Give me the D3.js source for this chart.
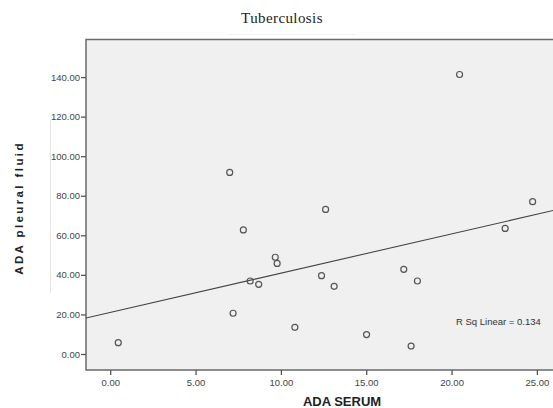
<!DOCTYPE html>
<html>
<head>
<meta charset="utf-8">
<script src="https://cdn.jsdelivr.net/npm/d3@7"></script>
<style>
  body { margin: 0; background: #fff; }
  svg { display: block; }
</style>
</head>
<body>
<div id="chart"></div>
<script>
// ADA values
const adaSerum = [0.47, 7.0, 7.2, 7.8, 8.2, 8.7, 9.67, 9.78, 10.82, 12.38, 12.62, 13.12, 15.02, 17.2, 17.63, 18.0, 20.47, 23.14, 24.75];
const adaPleural = [5.7, 91.8, 20.6, 62.7, 36.9, 35.2, 48.9, 45.8, 13.5, 39.6, 73.1, 34.2, 9.8, 42.8, 4.0, 36.9, 141.3, 63.5, 77.0];
const xTicks = [0, 5, 10, 15, 20, 25];
const yTicks = [0, 20, 40, 60, 80, 100, 120, 140];
const fitLabel = "R Sq Linear = 0.134";

const W = 553, H = 408;
const svg = d3.select('#chart').append('svg').attr('width', W).attr('height', H);

const x = d3.scaleLinear().domain([-1.42, 26.12]).range([86, 556]);
const y = d3.scaleLinear().domain([-8.1, 159]).range([370, 39.5]);

// title
svg.append('text')
    .attr('x', 282).attr('y', 23)
    .attr('text-anchor', 'middle')
    .style('font-family', '"Liberation Serif", serif')
    .style('font-size', '15px')
    .style('letter-spacing', '0.4px')
    .style('fill', '#222')
    .text('Tuberculosis')
svg.append('line').attr('x1', 227).attr('x2', 355).attr('y1', 34.5).attr('y2', 34.5)
    .style('stroke', '#f2f2f2')

// faint artefact line left of the axis
svg.append('line').attr('x1', 50.5).attr('x2', 50.5).attr('y1', 120).attr('y2', 293)
    .style('stroke', '#e4e4e4')

// plot area
svg.append('rect')
    .attr('x', x.range()[0]).attr('y', y.range()[1])
    .attr('width', x.range()[1] - x.range()[0])
    .attr('height', y.range()[0] - y.range()[1])
    .style('fill', '#f0f0f0')
    .style('stroke', '#6a6a6a')
    .style('stroke-width', 1.5)

const clip = svg.append('clipPath').attr('id', 'clip').append('rect')
    .attr('x', x.range()[0]).attr('y', y.range()[1])
    .attr('width', x.range()[1] - x.range()[0])
    .attr('height', y.range()[0] - y.range()[1])

// axes
const yAxis = svg.append('g')
    .attr('transform', `translate(${x.range()[0]},0)`)
    .call(d3.axisLeft(y).tickValues(yTicks).tickFormat(d3.format('.2f')).tickSize(5).tickPadding(1))
const xAxis = svg.append('g')
    .attr('transform', `translate(0,${y.range()[0]})`)
    .call(d3.axisBottom(x).tickValues(xTicks).tickFormat(d3.format('.2f')).tickSize(5).tickPadding(4))
;[yAxis, xAxis].forEach(g => {
    g.select('.domain').remove()
    g.selectAll('line').style('stroke', '#555').style('stroke-width', 1.3)
    g.selectAll('text').style('font-family', 'Arial, "Liberation Sans", sans-serif')
        .style('font-size', '9.5px').style('fill', '#444')
})

// linear fit
const data = adaSerum.map((v, i) => ({x: v, y: adaPleural[i]}))
const mx = d3.mean(adaSerum), my = d3.mean(adaPleural)
const sxy = d3.sum(data, d => (d.x - mx) * (d.y - my))
const sxx = d3.sum(data, d => (d.x - mx) ** 2)
const slope = sxy / sxx, icpt = my - slope * mx
svg.append('line')
    .attr('clip-path', 'url(#clip)')
    .attr('x1', x(x.domain()[0])).attr('y1', y(icpt + slope * x.domain()[0]))
    .attr('x2', x(x.domain()[1])).attr('y2', y(icpt + slope * x.domain()[1]))
    .style('stroke', '#444').style('stroke-width', 1.1)

// points
svg.append('g').selectAll('circle')
    .data(data)
    .enter()
    .append('circle')
    .attr('cx', d => x(d.x))
    .attr('cy', d => y(d.y))
    .attr('r', 3)
    .style('fill', 'none')
    .style('stroke', '#555')
    .style('stroke-width', 1.2)

svg.append('text')
    .attr('x', 456).attr('y', 325)
    .style('font-family', 'Arial, "Liberation Sans", sans-serif')
    .style('font-size', '9.5px')
    .style('fill', '#333')
    .text(fitLabel)

// axis titles
svg.append('text')
    .attr('x', 342).attr('y', 406)
    .attr('text-anchor', 'middle')
    .style('font-family', 'Arial, "Liberation Sans", sans-serif')
    .style('font-size', '13px').style('font-weight', 'bold')
    .style('fill', '#222')
    .text('ADA SERUM')
svg.append('text')
    .attr('transform', 'translate(23,208) rotate(-90)')
    .attr('text-anchor', 'middle')
    .style('font-family', 'Arial, "Liberation Sans", sans-serif')
    .style('font-size', '11.5px').style('font-weight', 'bold')
    .style('letter-spacing', '2.4px')
    .style('fill', '#222')
    .text('ADA pleural fluid')
</script>
</body>
</html>
